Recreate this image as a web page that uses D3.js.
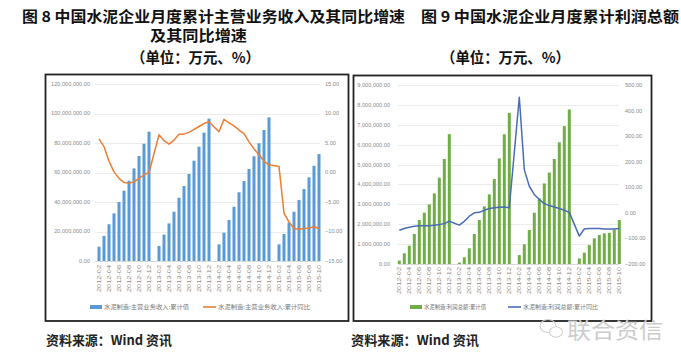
<!DOCTYPE html>
<html><head><meta charset="utf-8">
<script src="https://cdn.jsdelivr.net/npm/d3@7"></script>
<style>html,body{margin:0;padding:0;background:#fff;}svg{display:block;}</style>
</head><body>
<svg id="c" width="681" height="358"></svg>
<script>
// ---------- DATA ----------
const categories = [
 "2012-02","2012-03","2012-04","2012-05","2012-06","2012-07","2012-08","2012-09","2012-10","2012-11","2012-12",
 "2013-01","2013-02","2013-03","2013-04","2013-05","2013-06","2013-07","2013-08","2013-09","2013-10","2013-11","2013-12",
 "2014-01","2014-02","2014-03","2014-04","2014-05","2014-06","2014-07","2014-08","2014-09","2014-10","2014-11","2014-12",
 "2015-01","2015-02","2015-03","2015-04","2015-05","2015-06","2015-07","2015-08","2015-09","2015-10"];
// 图8: 主营业务收入 累计值 (万元)
const revenueCum = [
 9700000,17000000,24900000,32300000,40000000,47700000,54400000,62800000,71200000,79500000,87700000,
 null,10200000,17900000,25500000,33400000,42900000,50800000,59000000,68000000,77500000,87000000,96500000,
 null,11300000,19200000,27800000,36800000,46600000,54200000,62400000,71000000,79800000,88800000,97400000,
 null,11300000,18300000,26000000,33400000,41400000,48800000,56700000,64600000,72500000];
// 图8: 主营业务收入 累计同比 (%)
const revenueYoY = [
 5.7,4.4,1.9,0.1,-1.0,-1.7,-1.8,-1.6,-1.0,-0.4,0.0,
 null,6.4,5.4,4.8,5.5,6.5,6.5,6.8,7.3,7.8,8.3,8.6,
 null,6.9,9.0,8.4,7.9,7.2,6.6,5.2,4.0,3.0,1.9,1.3,
 null,1.0,-6.9,-8.4,-9.5,-9.6,-9.5,-9.4,-9.2,-9.5];
// 图9: 利润总额 累计值 (万元)
const profitCum = [
 170000,540000,920000,1510000,2210000,2580000,3000000,3550000,4340000,5280000,6530000,
 null,70000,340000,790000,1510000,2210000,2900000,3500000,4270000,5310000,6520000,7600000,
 null,450000,990000,1710000,2580000,3300000,4050000,4600000,5280000,6120000,6930000,7770000,
 null,280000,570000,950000,1290000,1460000,1540000,1570000,1740000,2210000];
// 图9: 利润总额 累计同比 (%)
const profitYoY = [
 -68,-61,-56,-52,-50,-50,-50,-48,-46,-42,-33,
 null,-48,-33,-13,0,2,10,17,20,22,23,20,
 null,452,169,104,72,52,36,29,23,17,10,2,
 null,-91,-63,-61,-61,-61,-63,-63,-63,-61];

const leftTicksL = [0,20000000,40000000,60000000,80000000,100000000,120000000];
const leftTicksR = [-15,-10,-5,0,5,10,15];
const rightTicksL = [0,1000000,2000000,3000000,4000000,5000000,6000000,7000000,8000000,9000000];
const rightTicksR = [-200,-100,0,100,200,300,400,500];

const titles = {
  left1: "图 8 中国水泥企业月度累计主营业务收入及其同比增速",
  left2: "及其同比增速",
  right1: "图 9 中国水泥企业月度累计利润总额",
  unit: "（单位：万元、%）",
  source: "资料来源：Wind 资讯",
  legendL1: "水泥制造:主营业务收入:累计值",
  legendL2: "水泥制造:主营业务收入:累计同比",
  legendR1: "水泥制造:利润总额:累计值",
  legendR2: "水泥制造:利润总额:累计同比",
  mark: "联合资信"
};

// ---------- DRAW ----------
const svg = d3.select("#c");
svg.append("rect").attr("width",681).attr("height",358).attr("fill","#fff");

const CJK = "'Noto Sans CJK SC','Noto Sans',sans-serif";
const LAT = "'Liberation Sans',Arial,sans-serif";

function T(x,y,s,opt){
  const t = svg.append("text").attr("x",x).attr("y",y).text(s)
    .attr("font-family",opt.ff||CJK).attr("font-size",opt.fs||12)
    .attr("font-weight",opt.fw||"normal").attr("fill",opt.fill||"#000");
  if(opt.anchor) t.attr("text-anchor",opt.anchor);
  if(opt.len) t.attr("textLength",opt.len).attr("lengthAdjust","spacingAndGlyphs");
  return t;
}

// titles
T(22,22,titles.left1,{fs:15,fw:"bold",len:383,fill:"#111"});
T(150,41,titles.left2,{fs:15,fw:"bold",len:97,fill:"#111"});
T(131,63,titles.unit,{fs:15,fw:"bold",len:129,fill:"#111"});
T(421,22,titles.right1,{fs:15,fw:"bold",len:258,fill:"#111"});
T(441,63,titles.unit,{fs:15,fw:"bold",len:129,fill:"#111"});

// boxes
svg.append("rect").attr("x",45.5).attr("y",74.5).attr("width",303).attr("height",246.5)
  .attr("fill","none").attr("stroke","#222").attr("stroke-width",1.8);
svg.append("rect").attr("x",353.5).attr("y",75.5).attr("width",298).attr("height",245.5)
  .attr("fill","none").attr("stroke","#222").attr("stroke-width",1.8);

function chart(cfg){
  const g = svg.append("g");
  const x = d3.scaleBand().domain(categories).range(cfg.xr).paddingInner(0.4).paddingOuter(0.2);
  const yL = d3.scaleLinear().domain(cfg.domL).range([cfg.y0,cfg.y1]);
  const yR = d3.scaleLinear().domain(cfg.domR).range([cfg.y0,cfg.y1]);
  // gridlines
  g.selectAll(".gl").data(cfg.ticksL).join("line")
    .attr("x1",cfg.gx[0]).attr("x2",cfg.gx[1])
    .attr("y1",d=>Math.round(yL(d))+0.5).attr("y2",d=>Math.round(yL(d))+0.5)
    .attr("stroke",d=>d===0?"#cfcfcf":"#e6e6e6").attr("stroke-width",0.8);
  // left tick labels
  g.selectAll(".tl").data(cfg.ticksL).join("text")
    .attr("x",cfg.lx).attr("y",d=>yL(d)).attr("dy","0.35em").attr("text-anchor","end")
    .attr("font-family",LAT).attr("font-size",5.6).attr("fill","#8a8a8a")
    .text(d=>d3.format(",.2f")(d));
  // right tick labels
  g.selectAll(".tr").data(cfg.ticksR).join("text")
    .attr("x",cfg.rx).attr("y",d=>yR(d)).attr("dy","0.35em").attr("text-anchor","start")
    .attr("font-family",LAT).attr("font-size",5.6).attr("fill","#8a8a8a")
    .text(d=>d3.format(".2f")(d));
  // bars
  const bd = categories.map((c,i)=>({c,v:cfg.bars[i]})).filter(d=>d.v!=null);
  g.selectAll(".b").data(bd).join("rect")
    .attr("x",d=>x(d.c)).attr("width",x.bandwidth())
    .attr("y",d=>yL(d.v)).attr("height",d=>yL(0)-yL(d.v))
    .attr("fill",cfg.barColor);
  // line
  const ld = categories.map((c,i)=>({c,v:cfg.line[i]})).filter(d=>d.v!=null);
  g.append("path").datum(ld)
    .attr("d",d3.line().x(d=>x(d.c)+x.bandwidth()/2).y(d=>yR(d.v)))
    .attr("fill","none").attr("stroke",cfg.lineColor).attr("stroke-width",1.5)
    .attr("stroke-linejoin","round");
  // x labels
  const xl = categories.filter((c,i)=>i%2===0);
  g.selectAll(".xl").data(xl).join("text")
    .attr("transform",d=>`translate(${x(d)+x.bandwidth()/2},${cfg.xly}) rotate(-90)`)
    .attr("text-anchor","end").attr("dy","0.35em")
    .attr("font-family",LAT).attr("font-size",5.6).attr("fill","#8a8a8a")
    .attr("textLength",27).attr("lengthAdjust","spacingAndGlyphs")
    .text(d=>d);
  // legend
  const ly = 307;
  g.append("rect").attr("x",cfg.leg[0]).attr("y",ly-2).attr("width",12).attr("height",4).attr("fill",cfg.barColor);
  T(cfg.leg[0]+14,ly,cfg.legText[0],{fs:6,fill:"#777",len:cfg.legLen[0]}).attr("dy","0.35em");
  g.append("line").attr("x1",cfg.leg[1]).attr("x2",cfg.leg[1]+13).attr("y1",ly).attr("y2",ly)
    .attr("stroke",cfg.lineColor).attr("stroke-width",1.6);
  T(cfg.leg[1]+15,ly,cfg.legText[1],{fs:6,fill:"#777",len:cfg.legLen[1]}).attr("dy","0.35em");
}

chart({
  xr:[96.5,321.5], gx:[95,320], y0:261, y1:84,
  domL:[0,120000000], domR:[-15,15], ticksL:leftTicksL, ticksR:leftTicksR,
  lx:90, rx:325, bars:revenueCum, line:revenueYoY,
  barColor:"#5b9bd5", lineColor:"#ed7d31", xly:265,
  leg:[90,203], legText:[titles.legendL1,titles.legendL2], legLen:[85,92]
});
chart({
  xr:[396.8,621.8], gx:[398,619], y0:264, y1:85,
  domL:[0,9000000], domR:[-200,500], ticksL:rightTicksL, ticksR:rightTicksR,
  lx:390, rx:625, bars:profitCum, line:profitYoY,
  barColor:"#70ad47", lineColor:"#4a6db5", xly:267,
  leg:[410,508], legText:[titles.legendR1,titles.legendR2], legLen:[62,75]
});

// footers
T(46,345,titles.source,{fs:13,fw:"bold",len:126,fill:"#222"});
T(351,345,titles.source,{fs:13,fw:"bold",len:128,fill:"#222"});

// watermark
const wm = svg.append("g").attr("fill","none").attr("stroke","#cfcfcf").attr("stroke-width",1.1);
wm.append("ellipse").attr("cx",548).attr("cy",326).attr("rx",8).attr("ry",6.5);
wm.append("ellipse").attr("cx",556).attr("cy",332).attr("rx",6.5).attr("ry",5.2).attr("fill","#fff");
T(567,338,titles.mark,{fs:22,fill:"#cccccc",len:96});
</script>
</body></html>
